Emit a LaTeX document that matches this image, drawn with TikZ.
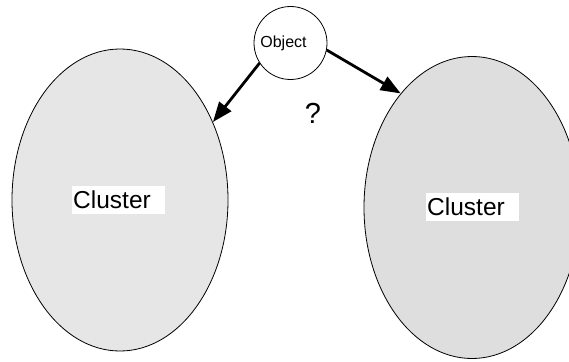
\documentclass[tikz,border=0pt]{standalone}
\usepackage{fontspec}
\setmainfont{Liberation Sans}
\usetikzlibrary{shapes.geometric,arrows.meta}
\definecolor{lfill}{HTML}{E6E6E6}
\definecolor{rfill}{HTML}{DEDEDE}
\begin{document}
\begin{tikzpicture}[x=1pt,y=-1pt,
  cluster/.style={ellipse, draw=black, line width=0.8pt, minimum width=216pt, minimum height=302pt, inner sep=0pt},
  lab/.style={fill=white, text width=91pt, align=left, inner xsep=1pt, inner ysep=0pt, minimum height=28pt, font=\fontsize{24.5}{24.5}\selectfont, anchor=west},
  objc/.style={circle, draw=black, fill=white, line width=0.8pt, minimum size=73pt, inner sep=0pt},
  arr/.style={line width=2.8pt, -{Triangle[length=20pt,width=15pt]}}]
\useasboundingbox (0,0) rectangle (569,361);
\node[cluster, fill=lfill] (L) at (120,200) {};
\node[cluster, fill=rfill] (R) at (472,207.5) {};
\node[lab] (Lt) at (72,200) {Cluster};
\node[lab] (Rt) at (426,206.5) {Cluster};
\node[objc] (obj) at (290.5,43) {};
\node[font=\fontsize{16}{16}\selectfont, inner sep=0pt] (objt) at (283.5,43.5) {Object};
\node[font=\fontsize{29}{29}\selectfont, inner sep=0pt] (q) at (313,113) {?};
\draw[arr] (obj.213) -- (L.40);
\draw[arr] (obj.-11) -- (R.122);
\end{tikzpicture}
\end{document}
